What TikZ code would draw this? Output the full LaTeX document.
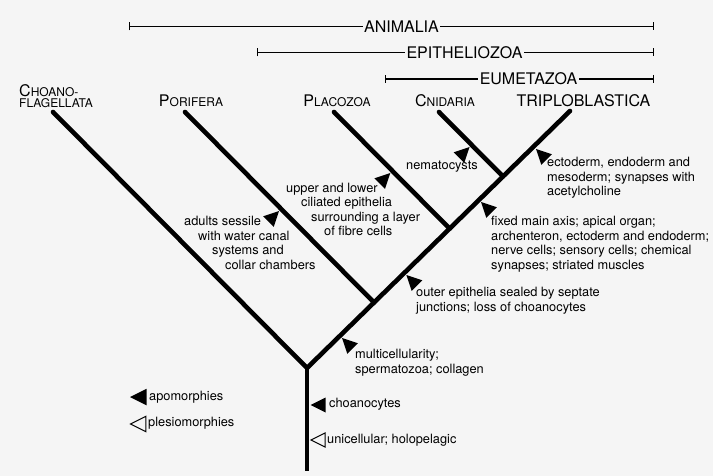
\documentclass[tikz,border=0pt]{standalone}
\usepackage{fontspec}
\setmainfont{TeX Gyre Heros}
\usetikzlibrary{arrows.meta}
\definecolor{bg}{RGB}{245,245,245}
\newcommand{\tx}[2]{{\fontsize{16}{16}\selectfont #1}{\fontsize{12}{12}\selectfont #2}}
\begin{document}
\begin{tikzpicture}[x=1pt,y=-1pt,
  branch/.style={line width=4.6pt, line cap=round, line join=miter},
  trunkline/.style={line width=4.6pt, line cap=butt},
  barline/.style={line width=1.1pt, {Bar[width=8pt]}-{Bar[width=8pt]}},
  barlabel/.style={fill=bg, inner xsep=1.5pt, inner ysep=1pt, font=\fontsize{16}{16}\selectfont},
  taxon/.style={inner sep=0pt, anchor=base},
  body/.style={inner sep=0pt, align=left, anchor=north west, font=\fontsize{12.8}{14.6}\selectfont},
  apo/.pic={\fill (0,0) -- (-15,7.5) -- (-15,-7.5) -- cycle;},
  plesio/.pic={\draw[line width=1pt, line join=miter] (0,0) -- (-14,7) -- (-14,-7) -- cycle;},
]
\useasboundingbox[fill=bg] (0,0) rectangle (713,476);

% clade bars
\coordinate (animL) at (129,26.5);  \coordinate (animR) at (654,26.5);
\coordinate (epiL) at (257,52.5);   \coordinate (epiR) at (654,52.5);
\coordinate (eumL) at (385,79);     \coordinate (eumR) at (654,79);
\draw[barline] (animL) -- (animR);
\draw[barline] (epiL) -- (epiR);
\draw[barline] (eumL) -- (eumR);
\node[barlabel] (anim) at (401.5,26.5) {ANIMALIA};
\node[barlabel] (epi) at (464.5,52.5) {EPITHELIOZOA};
\node[barlabel] (eum) at (528.5,79) {EUMETAZOA};

% taxon labels
\node[taxon, anchor=base west] (choA) at (19,96.7) {\tx{C}{HOANO-}};
\node[taxon, anchor=base west] (choB) at (19,108) {\fontsize{12}{12}\selectfont FLAGELLATA};
\node[taxon] (por) at (191,107) {\tx{P}{ORIFERA}};
\node[taxon] (pla) at (337,107) {\tx{P}{LACOZOA}};
\node[taxon] (cni) at (445,107) {\tx{C}{NIDARIA}};
\node[taxon] (tri) at (583.5,107) {\fontsize{16}{16}\selectfont TRIPLOBLASTICA};

% tree
\coordinate (fork) at (307,368);
\coordinate (root) at (307,471);
\coordinate (choTip) at (53,112);
\coordinate (porTip) at (185,112);
\coordinate (plaTip) at (334,112);
\coordinate (cniTip) at (439,112);
\coordinate (triTip) at (570,111);
\coordinate (porJ) at (374.0,302.5);
\coordinate (plaJ) at (449.6,228.6);
\coordinate (cniJ) at (503.0,176.5);

\draw[trunkline] (fork) -- (root);
\draw[branch] (choTip) -- (fork) -- (triTip);
\draw[branch] (porTip) -- (porJ);
\draw[branch] (plaTip) -- (plaJ);
\draw[branch] (cniTip) -- (cniJ);

% character markers
\pic[rotate=45] at (279,211) {apo};
\pic[rotate=45] at (390.3,173) {apo};
\pic[rotate=45] at (469.5,147) {apo};
\pic[rotate=135] at (536,149) {apo};
\pic[rotate=135] at (481,202) {apo};
\pic[rotate=135] at (406.4,275) {apo};
\pic[rotate=135] at (342,338) {apo};
\pic[rotate=180] at (310.5,405) {apo};
\pic[rotate=180] at (311,440) {plesio};
\pic[rotate=180, scale=1.1] at (130,397) {apo};
\pic[rotate=180, scale=1.1] at (130.5,424) {plesio};

% character texts
\node[body] (ecto) at (547,157) {ectoderm, endoderm and\\mesoderm; synapses with\\acetylcholine};
\node[body] (fixd) at (491,216) {fixed main axis; apical organ;\\archenteron, ectoderm and endoderm;\\nerve cells; sensory cells; chemical\\synapses; striated muscles};
\node[body] (outr) at (416,287) {outer epithelia sealed by septate\\junctions; loss of choanocytes};
\node[body] (mult) at (355,349) {multicellularity;\\spermatozoa; collagen};
\node[body] (choT) at (329,398) {choanocytes};
\node[body] (uni) at (327,434) {unicellular; holopelagic};
\node[body] (nem) at (406,161) {nematocysts};
\node[body] (up1) at (286,183) {upper and lower};
\node[body] (up2) at (301,197) {ciliated epithelia};
\node[body] (up3) at (311,212) {surrounding a layer};
\node[body] (up4) at (324,226) {of fibre cells};
\node[body] (ad1) at (184,216) {adults sessile};
\node[body] (ad2) at (198,231) {with water canal};
\node[body] (ad3) at (212,245) {systems and};
\node[body] (ad4) at (225,260) {collar chambers};
\node[body] (apoL) at (149,391) {apomorphies};
\node[body] (pleL) at (148,417) {plesiomorphies};
\end{tikzpicture}
\end{document}
